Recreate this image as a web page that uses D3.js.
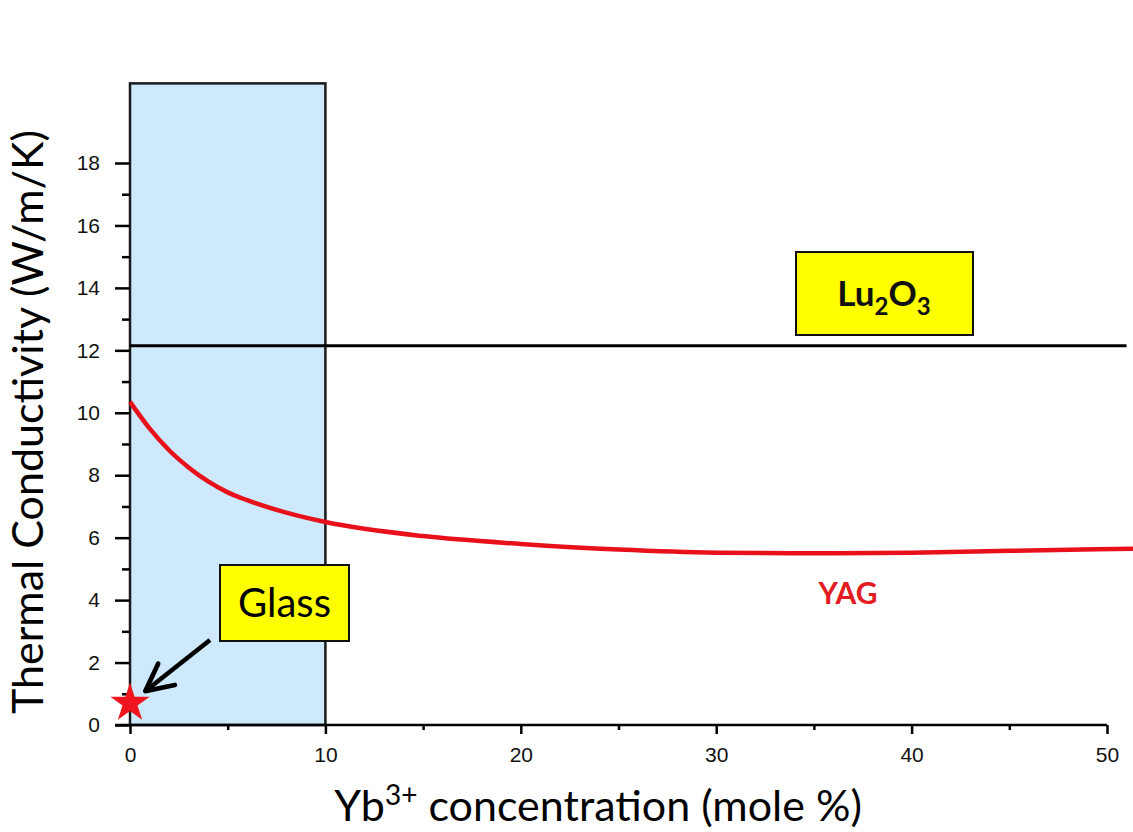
<!DOCTYPE html>
<html>
<head>
    <script src="https://cdnjs.cloudflare.com/ajax/libs/d3/7.8.5/d3.min.js"></script>
    <style>
        body { margin: 0; background: white; }
        .tick-label { font-family: "Liberation Sans", Arial; font-size: 21px; fill: #111; }
        .axis-title { font-family: Lato, "Open Sans"; font-size: 43px; fill: #000; }
    </style>
</head>
<body>
    <svg width="1133" height="832"></svg>
    <script>
        // Data
        const yagX = [0, 1, 2, 3, 4, 5, 6, 8, 10, 15, 20, 25, 30, 35, 40, 45, 51.5];
        const yagY = [10.35, 9.5, 8.8, 8.25, 7.8, 7.45, 7.2, 6.8, 6.5, 6.05, 5.8, 5.62, 5.52, 5.5, 5.52, 5.58, 5.65];
        const lu2o3Value = 12.15;
        const glassPoint = [0, 0.7];
        const xTicks = [0, 10, 20, 30, 40, 50];
        const yTicks = [0, 2, 4, 6, 8, 10, 12, 14, 16, 18];
        const shadedRange = [0, 10];

        const svg = d3.select("svg");

        // Scales (x: 0 at 130px, 50 at 1107px; y: 0 at 725px, 18 at 163px)
        const x = d3.scaleLinear().domain([0, 50]).range([130, 1107]);
        const y = d3.scaleLinear().domain([0, 18]).range([725, 163]);
        const yTop = 20.55;

        // Shaded region
        svg.append("rect")
            .attr("x", x(shadedRange[0]))
            .attr("y", y(yTop))
            .attr("width", x(shadedRange[1]) - x(shadedRange[0]))
            .attr("height", y(0) - y(yTop))
            .attr("fill", "#cde9fb")
            .attr("stroke", "#1a1a1a")
            .attr("stroke-width", 2.5);

        // Lu2O3 line
        svg.append("line")
            .attr("x1", x(0)).attr("x2", x(51))
            .attr("y1", y(lu2o3Value)).attr("y2", y(lu2o3Value))
            .attr("stroke", "#000").attr("stroke-width", 3);

        // YAG curve
        const yagData = yagX.map((d, i) => [d, yagY[i]]);
        svg.append("path")
            .datum(yagData)
            .attr("fill", "none")
            .attr("stroke", "#e8101a")
            .attr("stroke-width", 4.5)
            .attr("d", d3.line().x(d => x(d[0])).y(d => y(d[1])).curve(d3.curveMonotoneX));

        // X axis
        const xAxis = svg.append("g")
            .attr("transform", `translate(0,${y(0)})`)
            .call(d3.axisBottom(x).tickValues(xTicks).tickSize(9).tickPadding(13).tickFormat(d3.format("d")));
        xAxis.selectAll(".tick line").attr("stroke-width", 2.5);
        xAxis.selectAll(".tick text").attr("class", "tick-label").attr("font-size", null).attr("font-family", null);
        xAxis.select(".domain").remove();
        svg.append("g")
            .attr("transform", `translate(0,${y(0)})`)
            .call(d3.axisBottom(x).tickValues([5, 15, 25, 35, 45]).tickSize(5).tickFormat(""))
            .call(g => g.select(".domain").remove())
            .selectAll(".tick line").attr("stroke-width", 2.5);
        svg.append("line")
            .attr("x1", x(0) - 15).attr("x2", x(50))
            .attr("y1", y(0)).attr("y2", y(0))
            .attr("stroke", "#000").attr("stroke-width", 2.5);

        // Y axis
        const yAxis = svg.append("g")
            .attr("transform", `translate(${x(0)},0)`)
            .call(d3.axisLeft(y).tickValues(yTicks).tickSize(15).tickPadding(15));
        yAxis.selectAll(".tick line").attr("stroke-width", 2.5);
        yAxis.selectAll(".tick text").attr("class", "tick-label").attr("font-size", null).attr("font-family", null);
        yAxis.select(".domain").remove();
        svg.append("g")
            .attr("transform", `translate(${x(0)},0)`)
            .call(d3.axisLeft(y).tickValues([1, 3, 5, 7, 9, 11, 13, 15, 17]).tickSize(8).tickFormat(""))
            .call(g => g.select(".domain").remove())
            .selectAll(".tick line").attr("stroke-width", 2.5);

        // Axis titles
        const xt = svg.append("text")
            .attr("class", "axis-title")
            .attr("x", 598).attr("y", 821)
            .attr("text-anchor", "middle");
        xt.append("tspan").text("Yb");
        xt.append("tspan").attr("dy", -16).attr("font-size", 28).text("3+");
        xt.append("tspan").attr("dy", 16).text(" concentration (mole %)");

        svg.append("text")
            .attr("class", "axis-title")
            .attr("transform", `translate(43,${422}) rotate(-90)`)
            .attr("text-anchor", "middle")
            .text("Thermal Conductivity (W/m/K)");

        // Lu2O3 label box
        svg.append("rect")
            .attr("x", 796).attr("y", 252).attr("width", 177).attr("height", 83)
            .attr("fill", "#ffff00").attr("stroke", "#111").attr("stroke-width", 2);
        const lt = svg.append("text")
            .attr("x", 884).attr("y", 306)
            .attr("text-anchor", "middle")
            .attr("font-family", "Lato, 'Open Sans'")
            .attr("font-weight", "bold")
            .attr("font-size", 35)
            .attr("fill", "#111");
        lt.append("tspan").text("Lu");
        lt.append("tspan").attr("dy", 9).attr("font-size", 24).text("2");
        lt.append("tspan").attr("dy", -9).text("O");
        lt.append("tspan").attr("dy", 9).attr("font-size", 24).text("3");

        // Glass label box
        svg.append("rect")
            .attr("x", 220).attr("y", 565).attr("width", 129).attr("height", 76)
            .attr("fill", "#ffff00").attr("stroke", "#111").attr("stroke-width", 2);
        svg.append("text")
            .attr("x", 284.5).attr("y", 617)
            .attr("text-anchor", "middle")
            .attr("font-family", "Lato, 'Open Sans'")
            .attr("font-size", 40)
            .attr("fill", "#000")
            .text("Glass");

        // Arrow from Glass box to star
        svg.append("defs").append("marker")
            .attr("id", "arrow")
            .attr("viewBox", "0 0 10 10")
            .attr("refX", 8).attr("refY", 5)
            .attr("markerWidth", 7.5).attr("markerHeight", 7.5)
            .attr("markerUnits", "strokeWidth")
            .attr("orient", "auto")
            .append("path")
            .attr("d", "M1,1 L9,5 L1,9")
            .attr("fill", "none").attr("stroke", "#000").attr("stroke-width", 1.4)
            .attr("stroke-linecap", "round").attr("stroke-linejoin", "round");
        svg.append("line")
            .attr("x1", 210).attr("y1", 640)
            .attr("x2", 148).attr("y2", 689)
            .attr("stroke", "#000").attr("stroke-width", 4.5)
            .attr("marker-end", "url(#arrow)");

        // Glass point (star)
        svg.append("path")
            .attr("d", d3.symbol(d3.symbolStar, 480)())
            .attr("transform", `translate(${x(glassPoint[0])},${y(glassPoint[1])})`)
            .attr("fill", "#f0141e");

        // YAG label
        svg.append("text")
            .attr("x", 848).attr("y", 604)
            .attr("text-anchor", "middle")
            .attr("font-family", "Lato, 'Open Sans'")
            .attr("font-weight", "bold")
            .attr("font-size", 30)
            .attr("fill", "#e31b23")
            .text("YAG");
    </script>
</body>
</html>
